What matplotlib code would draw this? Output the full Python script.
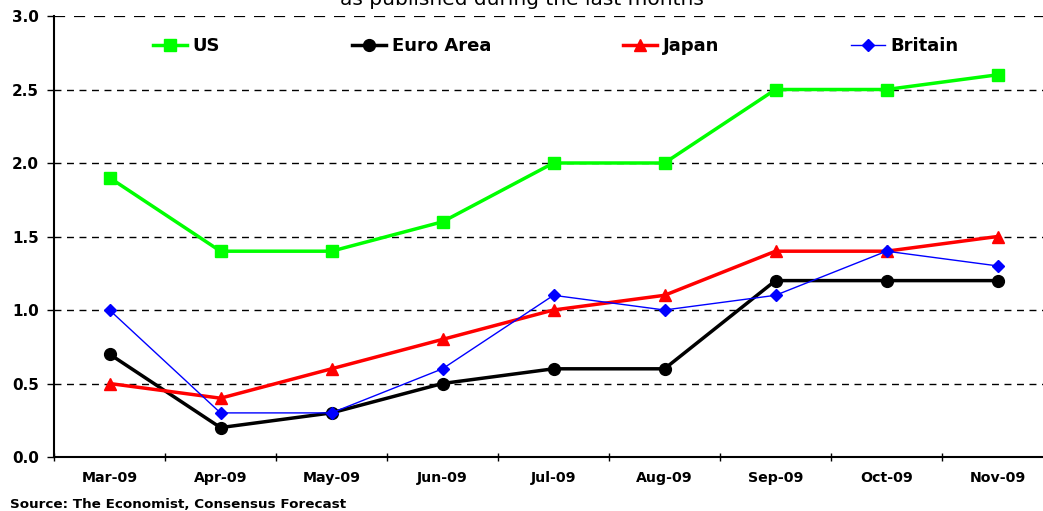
import matplotlib.pyplot as plt
import numpy as np

plt.rcParams['font.family'] = ['DejaVu Sans']

months = ['Mar-09', 'Apr-09', 'May-09', 'Jun-09', 'Jul-09',
          'Aug-09', 'Sep-09', 'Oct-09', 'Nov-09']
us = [1.9, 1.4, 1.4, 1.6, 2.0, 2.0, 2.5, 2.5, 2.6]
euro_area = [0.7, 0.2, 0.3, 0.5, 0.6, 0.6, 1.2, 1.2, 1.2]
japan = [0.5, 0.4, 0.6, 0.8, 1.0, 1.1, 1.4, 1.4, 1.5]
britain = [1.0, 0.3, 0.3, 0.6, 1.1, 1.0, 1.1, 1.4, 1.3]

fig = plt.figure(figsize=(10.43, 5.11), dpi=100)
ax = fig.add_axes([54 / 1043, 54 / 511, 999 / 1043, 441 / 511])

x = np.arange(len(months))
ax.plot(x, us, color='#00ff00', lw=2.5, marker='s', ms=8, label='US')
ax.plot(x, euro_area, color='black', lw=2.5, marker='o', ms=8.5, label='Euro Area')
ax.plot(x, japan, color='#ff0000', lw=2.5, marker='^', ms=9, label='Japan')
ax.plot(x, britain, color='#0000ff', lw=1, marker='D', ms=6, label='Britain')

ax.set_xlim(-0.5, len(months) - 0.5)
ax.set_ylim(0, 3.0)
yt = np.arange(0, 3.01, 0.5)
ax.set_yticks(yt)
ax.set_yticklabels([f'{v:.1f}' for v in yt], fontsize=11, fontweight='bold')
ax.set_xticks(x)
ax.set_xticklabels(months, fontsize=10.2, fontweight='bold')
ax.set_xticks(np.arange(-0.5, len(months)), minor=True)
ax.tick_params(axis='x', which='major', length=0, pad=10)
ax.tick_params(axis='x', which='minor', length=6, direction='inout', width=1)
ax.tick_params(axis='y', length=5, width=1, pad=6)

# dashed gridlines, the top one a little heavier
for v in yt[1:]:
    ax.axhline(v, color='black', lw=1 if v < 3 else 1.6, ls=(0, (5, 4)), zorder=0)

for side in ('top', 'right'):
    ax.spines[side].set_visible(False)
ax.spines['left'].set_linewidth(1.5)
ax.spines['bottom'].set_linewidth(1.5)

ax.legend(loc='upper left', bbox_to_anchor=(0.099, 0.952), ncol=4,
          frameon=False, handlelength=1.9, columnspacing=7.3,
          handletextpad=0.3, borderpad=0, borderaxespad=0,
          prop={'weight': 'bold', 'size': 13})

fig.text(0.5, 0.99, 'as published during the last months', ha='center',
         va='baseline', fontsize=14.5)
fig.text(10 / 1043, 0.0, 'Source: The Economist, Consensus Forecast',
         ha='left', va='bottom', fontsize=9.7, fontweight='bold')

fig.savefig('out.png', dpi=100)
